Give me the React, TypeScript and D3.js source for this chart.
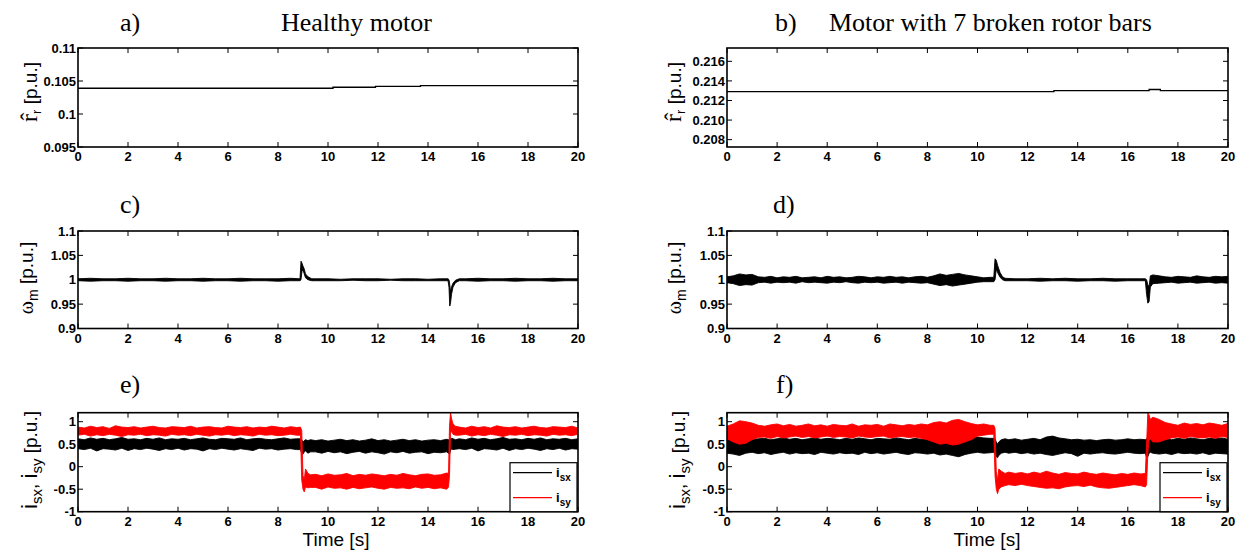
import React from 'react';
import * as d3 from 'd3';

// ---------------- data ----------------
const xTicks = [0, 2, 4, 6, 8, 10, 12, 14, 16, 18, 20];

// a) estimated rotor resistance, healthy (step line)
const aT = [0, 10.2, 11.9, 13.7, 20];
const aV = [0.1039, 0.10405, 0.1042, 0.1043, 0.1043];
// b) estimated rotor resistance, 7 broken bars
const bT = [0, 13.05, 16.85, 17.3, 20];
const bV = [0.2129, 0.2130, 0.21312, 0.2130, 0.2130];

const aYTicks = [0.095, 0.1, 0.105, 0.11];
const aYLabels = ['0.095', '0.1', '0.105', '0.11'];
const bYTicks = [0.208, 0.21, 0.212, 0.214, 0.216];
const bYLabels = ['0.208', '0.210', '0.212', '0.214', '0.216'];
const wYTicks = [0.9, 0.95, 1, 1.05, 1.1];
const wYLabels = ['0.9', '0.95', '1', '1.05', '1.1'];
const iYTicks = [-1, -0.5, 0, 0.5, 1];
const iYLabels = ['-1', '-0.5', '0', '0.5', '1'];

// c) speed, healthy  (envelope low / high)
const cT = [
  0, 0.5, 1, 1.5, 2, 2.5, 3, 3.5, 4, 4.5, 5, 5.5, 6, 6.5, 7, 7.5, 8, 8.5,
  8.88, 8.92, 8.96, 9.0, 9.05, 9.1, 9.2, 9.35,
  9.5, 10, 10.5, 11, 11.5, 12, 12.5, 13, 13.5, 14, 14.5,
  14.8, 14.84, 14.87, 14.9, 14.94, 15.0, 15.1, 15.25,
  15.5, 16, 16.5, 17, 17.5, 18, 18.5, 19, 19.5, 20,
];
const cHi = [
  1.002, 1.003, 1.002, 1.002, 1.003, 1.002, 1.002, 1.003, 1.002, 1.002, 1.003, 1.002, 1.002, 1.003, 1.002, 1.002, 1.002, 1.003,
  1.002, 1.038, 1.034, 1.028, 1.022, 1.012, 1.006, 1.002,
  1.002, 1.002, 1.001, 1.002, 1.002, 1.002, 1.001, 1.002, 1.002, 1.001, 1.002,
  1.002, 1.0, 0.99, 0.975, 0.985, 0.993, 0.999, 1.002,
  1.002, 1.003, 1.002, 1.002, 1.003, 1.002, 1.002, 1.003, 1.002, 1.002,
];
const cLo = [
  0.998, 0.997, 0.998, 0.998, 0.997, 0.998, 0.998, 0.997, 0.998, 0.998, 0.997, 0.998, 0.998, 0.997, 0.998, 0.998, 0.997, 0.998,
  0.998, 1.0, 1.018, 1.02, 1.012, 1.004, 1.0, 0.998,
  0.998, 0.998, 0.998, 0.999, 0.998, 0.998, 0.999, 0.998, 0.998, 0.998, 0.998,
  0.998, 0.985, 0.946, 0.952, 0.97, 0.985, 0.994, 0.998,
  0.998, 0.997, 0.998, 0.998, 0.997, 0.998, 0.998, 0.997, 0.998, 0.998,
];

// d) speed, 7 broken bars
const dT = [
  0, 0.25, 0.5, 0.75, 1, 1.25, 1.5, 1.75, 2, 2.25, 2.5, 2.75, 3, 3.25, 3.5, 3.75, 4, 4.25, 4.5, 4.75, 5,
  5.25, 5.5, 5.75, 6, 6.25, 6.5, 6.75, 7, 7.25, 7.5, 7.75, 8, 8.25, 8.5, 8.75, 9, 9.25, 9.5, 9.75, 10, 10.25, 10.5,
  10.65, 10.7, 10.75, 10.8, 10.9, 11.0, 11.1,
  11.5, 12, 12.5, 13, 13.5, 14, 14.5, 15, 15.5, 16, 16.5,
  16.7, 16.75, 16.8, 16.85, 16.9, 17.0,
  17.25, 17.5, 17.75, 18, 18.25, 18.5, 18.75, 19, 19.25, 19.5, 19.75, 20,
];
const dHi = [
  1.006, 1.008, 1.012, 1.01, 1.011, 1.006, 1.005, 1.007, 1.004, 1.006, 1.005, 1.007, 1.004, 1.005, 1.006, 1.004, 1.007, 1.005, 1.006, 1.004, 1.005,
  1.007, 1.006, 1.004, 1.006, 1.005, 1.007, 1.005, 1.006, 1.004, 1.006, 1.007, 1.005, 1.008, 1.012, 1.009, 1.011, 1.013, 1.01, 1.008, 1.006, 1.004, 1.005,
  1.005, 1.043, 1.04, 1.03, 1.015, 1.006, 1.003,
  1.002, 1.002, 1.003, 1.002, 1.003, 1.002, 1.002, 1.003, 1.002, 1.002, 1.002,
  1.002, 1.0, 0.99, 0.985, 1.008, 1.01,
  1.008, 1.006, 1.005, 1.007, 1.006, 1.005, 1.008, 1.006, 1.005, 1.007, 1.006, 1.007,
];
const dLo = [
  0.994, 0.992, 0.988, 0.99, 0.989, 0.994, 0.995, 0.993, 0.995, 0.994, 0.995, 0.993, 0.996, 0.994, 0.995, 0.994, 0.993, 0.995, 0.994, 0.996, 0.994,
  0.993, 0.995, 0.994, 0.995, 0.993, 0.994, 0.995, 0.993, 0.995, 0.994, 0.993, 0.994, 0.991, 0.988, 0.99, 0.987, 0.989, 0.991, 0.993, 0.995, 0.996, 0.996,
  0.996, 1.0, 1.022, 1.015, 1.005, 1.0, 0.998,
  0.998, 0.998, 0.997, 0.998, 0.998, 0.997, 0.998, 0.998, 0.997, 0.998, 0.998,
  0.998, 0.97, 0.952, 0.955, 0.985, 0.992,
  0.993, 0.994, 0.995, 0.993, 0.994, 0.995, 0.993, 0.994, 0.995, 0.993, 0.994, 0.993,
];

// e) currents, healthy
const eT = [
  0, 0.25, 0.5, 0.75, 1, 1.25, 1.5, 1.75, 2, 2.25, 2.5, 2.75, 3, 3.25, 3.5, 3.75, 4, 4.25,
  4.5, 4.75, 5, 5.25, 5.5, 5.75, 6, 6.25, 6.5, 6.75, 7, 7.25, 7.5, 7.75, 8, 8.25, 8.5, 8.75,
  8.9, 8.95, 9.0, 9.05, 9.1, 9.2, 9.3,
  9.5, 9.75, 10, 10.25, 10.5, 10.75, 11, 11.25, 11.5, 11.75, 12, 12.25, 12.5, 12.75, 13, 13.25, 13.5, 13.75, 14, 14.25, 14.5, 14.75,
  14.82, 14.86, 14.9, 14.95, 15.0, 15.1,
  15.25, 15.5, 15.75, 16, 16.25, 16.5, 16.75, 17, 17.25, 17.5, 17.75, 18, 18.25, 18.5, 18.75, 19, 19.25, 19.5, 19.75, 20,
];
const eSyHi = [
  0.88, 0.86, 0.9, 0.87, 0.89, 0.85, 0.91, 0.88, 0.87, 0.89, 0.86, 0.88, 0.9, 0.87, 0.86, 0.89, 0.88, 0.87,
  0.9, 0.86, 0.88, 0.89, 0.87, 0.86, 0.9, 0.88, 0.87, 0.89, 0.86, 0.88, 0.87, 0.9, 0.88, 0.86, 0.89, 0.87,
  0.88, 0.8, -0.2, -0.3, -0.05, -0.15, -0.18,
  -0.17, -0.2, -0.16, -0.19, -0.18, -0.15, -0.2, -0.17, -0.19, -0.16, -0.18, -0.2, -0.17, -0.19, -0.15, -0.18, -0.2, -0.17, -0.16, -0.19, -0.18, -0.14,
  -0.15, 0.9, 1.2, 1.05, 0.95, 0.9,
  0.88, 0.86, 0.9, 0.87, 0.89, 0.86, 0.91, 0.88, 0.87, 0.89, 0.86, 0.88, 0.9, 0.87, 0.86, 0.89, 0.88, 0.87, 0.9, 0.86,
];
const eSyLo = [
  0.7, 0.72, 0.68, 0.71, 0.69, 0.72, 0.7, 0.67, 0.71, 0.7, 0.72, 0.69, 0.71, 0.7, 0.68, 0.72, 0.7, 0.71,
  0.69, 0.72, 0.7, 0.68, 0.71, 0.7, 0.72, 0.69, 0.71, 0.7, 0.68, 0.72, 0.7, 0.71, 0.69, 0.7, 0.72, 0.7,
  0.7, -0.3, -0.5, -0.56, -0.45, -0.47, -0.46,
  -0.46, -0.5, -0.45, -0.48, -0.47, -0.5, -0.46, -0.49, -0.47, -0.45, -0.48, -0.5, -0.46, -0.48, -0.47, -0.49, -0.45, -0.48, -0.46, -0.49, -0.47, -0.5,
  -0.45, -0.2, 0.75, 0.78, 0.72, 0.7,
  0.7, 0.72, 0.68, 0.71, 0.69, 0.72, 0.7, 0.67, 0.71, 0.7, 0.72, 0.69, 0.71, 0.7, 0.68, 0.72, 0.7, 0.71, 0.69, 0.72,
];
const eSxHi = [
  0.62, 0.6, 0.64, 0.61, 0.63, 0.6, 0.62, 0.65, 0.61, 0.62, 0.6, 0.63, 0.61, 0.64, 0.6, 0.62, 0.61, 0.63,
  0.6, 0.62, 0.64, 0.61, 0.6, 0.63, 0.62, 0.61, 0.64, 0.6, 0.62, 0.63, 0.61, 0.6, 0.62, 0.64, 0.61, 0.62,
  0.62, 0.6, 0.55, 0.58, 0.6, 0.58, 0.6,
  0.58, 0.6, 0.57, 0.59, 0.61, 0.58, 0.6, 0.57, 0.59, 0.62, 0.58, 0.6, 0.57, 0.59, 0.61, 0.58, 0.6, 0.57, 0.59, 0.6, 0.58, 0.61,
  0.6, 0.6, 0.62, 0.63, 0.62, 0.6,
  0.62, 0.6, 0.64, 0.61, 0.63, 0.6, 0.62, 0.65, 0.61, 0.62, 0.6, 0.63, 0.61, 0.64, 0.6, 0.62, 0.61, 0.63, 0.6, 0.62,
];
const eSxLo = [
  0.4, 0.38, 0.41, 0.35, 0.4, 0.39, 0.37, 0.41, 0.36, 0.4, 0.38, 0.41, 0.39, 0.36, 0.4, 0.38, 0.41, 0.37,
  0.4, 0.39, 0.35, 0.4, 0.38, 0.41, 0.39, 0.37, 0.4, 0.38, 0.36, 0.41, 0.39, 0.4, 0.37, 0.39, 0.4, 0.38,
  0.38, 0.3, 0.28, 0.33, 0.35, 0.3, 0.33,
  0.33, 0.3, 0.34, 0.31, 0.33, 0.29, 0.32, 0.34, 0.3, 0.33, 0.31, 0.28, 0.33, 0.31, 0.34, 0.3, 0.32, 0.33, 0.29, 0.32, 0.31, 0.33,
  0.3, 0.27, 0.36, 0.4, 0.38, 0.39,
  0.4, 0.38, 0.41, 0.35, 0.4, 0.39, 0.37, 0.41, 0.36, 0.4, 0.38, 0.41, 0.39, 0.36, 0.4, 0.38, 0.41, 0.37, 0.4, 0.39,
];

// f) currents, 7 broken bars
const fT = [
  0, 0.25, 0.5, 0.75, 1, 1.25, 1.5, 1.75, 2, 2.25, 2.5, 2.75, 3, 3.25, 3.5, 3.75, 4, 4.25, 4.5, 4.75, 5,
  5.25, 5.5, 5.75, 6, 6.25, 6.5, 6.75, 7, 7.25, 7.5, 7.75, 8, 8.25, 8.5, 8.75, 9, 9.25, 9.5, 9.75, 10, 10.25, 10.5,
  10.65, 10.7, 10.75, 10.8, 10.85, 10.95, 11.1,
  11.25, 11.5, 11.75, 12, 12.25, 12.5, 12.75, 13, 13.25, 13.5, 13.75, 14, 14.25, 14.5, 14.75, 15, 15.25, 15.5, 15.75, 16, 16.25, 16.5,
  16.7, 16.75, 16.8, 16.85, 16.9, 17.0,
  17.25, 17.5, 17.75, 18, 18.25, 18.5, 18.75, 19, 19.25, 19.5, 19.75, 20,
];
const fSyHi = [
  0.9, 0.95, 1.02, 1.0, 0.97, 0.92, 0.9, 0.93, 0.95, 0.91, 0.94, 0.9, 0.92, 0.95, 0.91, 0.93, 0.9, 0.94, 0.92, 0.91, 0.95,
  0.9, 0.93, 0.92, 0.94, 0.9, 0.95, 0.93, 0.91, 0.94, 0.92, 0.95, 0.93, 0.98, 1.0, 0.97, 1.03, 1.05, 1.0, 0.96, 0.93, 0.95, 0.92,
  0.92, 0.85, -0.1, -0.3, -0.05, -0.1, -0.15,
  -0.12, -0.15, -0.13, -0.16, -0.12, -0.15, -0.1, -0.14, -0.17, -0.13, -0.15, -0.16, -0.12, -0.15, -0.17, -0.14, -0.16, -0.18, -0.15, -0.17, -0.14, -0.16,
  -0.15, 0.5, 1.2, 1.15, 1.05, 1.1,
  1.05, 0.98, 0.95, 0.92, 0.97, 0.94, 0.96, 0.93, 0.97, 0.95, 0.92, 0.96,
];
const fSyLo = [
  0.62, 0.55, 0.5, 0.52, 0.6, 0.65, 0.66, 0.63, 0.67, 0.64, 0.66, 0.68, 0.65, 0.67, 0.64, 0.66, 0.68, 0.65, 0.67, 0.66, 0.64,
  0.68, 0.66, 0.65, 0.67, 0.68, 0.64, 0.66, 0.67, 0.65, 0.66, 0.63, 0.6, 0.55, 0.5, 0.52, 0.48, 0.5, 0.55, 0.6, 0.68, 0.7, 0.72,
  0.72, -0.2, -0.5, -0.6, -0.5, -0.45, -0.42,
  -0.4, -0.42, -0.39, -0.42, -0.44, -0.46, -0.48, -0.47, -0.49, -0.45, -0.43, -0.42, -0.44, -0.41, -0.45, -0.47, -0.48, -0.46, -0.44, -0.42, -0.4, -0.42,
  -0.45, -0.4, 0.3, 0.6, 0.62, 0.55,
  0.55, 0.6, 0.64, 0.66, 0.63, 0.67, 0.65, 0.64, 0.66, 0.63, 0.67, 0.65,
];
const fSxHi = [
  0.6, 0.63, 0.66, 0.64, 0.6, 0.62, 0.63, 0.6, 0.62, 0.64, 0.61, 0.63, 0.6, 0.62, 0.64, 0.61, 0.63, 0.62, 0.6, 0.63, 0.61,
  0.64, 0.62, 0.6, 0.63, 0.62, 0.61, 0.64, 0.62, 0.6, 0.63, 0.61, 0.62, 0.6, 0.58, 0.6, 0.62, 0.6, 0.63, 0.65, 0.66, 0.64, 0.63,
  0.63, 0.62, 0.55, 0.5, 0.55, 0.6, 0.62,
  0.6, 0.62, 0.59, 0.61, 0.63, 0.6, 0.66, 0.68, 0.64, 0.62, 0.6, 0.61, 0.59, 0.6, 0.58, 0.6, 0.61, 0.59, 0.6, 0.62, 0.6, 0.61,
  0.6, 0.62, 0.65, 0.63, 0.62, 0.65,
  0.64, 0.62, 0.6, 0.63, 0.61, 0.64, 0.62, 0.6, 0.63, 0.62, 0.64, 0.61,
];
const fSxLo = [
  0.3, 0.28, 0.25, 0.3, 0.32, 0.29, 0.31, 0.27, 0.3, 0.32, 0.28, 0.31, 0.29, 0.3, 0.27, 0.32, 0.3, 0.28, 0.31, 0.29, 0.3,
  0.27, 0.32, 0.29, 0.31, 0.28, 0.3, 0.32, 0.29, 0.27, 0.31, 0.3, 0.28, 0.3, 0.26, 0.28, 0.25, 0.22, 0.27, 0.3, 0.32, 0.3, 0.31,
  0.32, 0.28, 0.22, 0.2, 0.25, 0.3, 0.32,
  0.3, 0.32, 0.29, 0.31, 0.28, 0.3, 0.27, 0.25, 0.28, 0.31, 0.29, 0.23, 0.3, 0.28, 0.3, 0.31, 0.29, 0.28, 0.3, 0.32, 0.3, 0.29,
  0.3, 0.2, 0.22, 0.3, 0.32, 0.3,
  0.28, 0.3, 0.27, 0.31, 0.29, 0.3, 0.28, 0.31, 0.27, 0.3, 0.29, 0.28,
];

// ---------------- layout ----------------
const W = 1242;
const H = 552;
const COLS = [
  [78, 578],
  [727, 1228],
];
const ROWS = [
  [48, 147],
  [231, 328.5],
  [412.7, 511.7],
];
const TICK_FONT = "'Liberation Sans', Arial, Helvetica, sans-serif";
const SERIF = "'Liberation Serif', 'Times New Roman', Times, serif";

type Band = { t: number[]; lo: number[]; hi: number[]; color: string };
type Step = { t: number[]; v: number[] };

function zipBand(b: Band) {
  return b.t.map((t, i) => ({ t, lo: b.lo[i], hi: b.hi[i] }));
}

function Panel(props: {
  id: string;
  col: number;
  row: number;
  yDomain: [number, number];
  yTicks: number[];
  yLabels: string[];
  bands?: Band[];
  step?: Step;
  legend?: boolean;
}) {
  const [x0, x1] = COLS[props.col];
  const [y0, y1] = ROWS[props.row];
  const xs = d3.scaleLinear().domain([0, 20]).range([x0, x1]);
  const ys = d3.scaleLinear().domain(props.yDomain).range([y1, y0]);
  const tl = 5;
  const clipId = 'clip-' + props.id;
  return (
    <g>
      <defs>
        <clipPath id={clipId}>
          <rect x={x0} y={y0} width={x1 - x0} height={y1 - y0} />
        </clipPath>
      </defs>
      <g clipPath={`url(#${clipId})`}>
        {props.bands &&
          props.bands.map((b, i) => {
            const area = d3
              .area<{ t: number; lo: number; hi: number }>()
              .x((d) => xs(d.t))
              .y0((d) => ys(d.lo))
              .y1((d) => ys(d.hi));
            return (
              <path
                key={i}
                d={area(zipBand(b)) || ''}
                fill={b.color}
                stroke={b.color}
                strokeWidth={0.9}
                strokeLinejoin="miter"
              />
            );
          })}
        {props.step && (
          <path
            d={
              d3
                .line<number>()
                .curve(d3.curveStepAfter)
                .x((_, i) => xs(props.step!.t[i]))
                .y((v) => ys(v))(props.step.v) || ''
            }
            fill="none"
            stroke="#000"
            strokeWidth={1.3}
          />
        )}
      </g>
      {/* ticks */}
      {xTicks.map((t) => (
        <g key={'x' + t}>
          <line x1={xs(t)} x2={xs(t)} y1={y1} y2={y1 - tl} stroke="#000" strokeWidth={1} />
          <line x1={xs(t)} x2={xs(t)} y1={y0} y2={y0 + tl} stroke="#000" strokeWidth={1} />
          <text
            x={xs(t)}
            y={y1 + 14}
            textAnchor="middle"
            fontFamily={TICK_FONT}
            fontWeight="bold"
            fontSize={13}
            fill="#000"
          >
            {t}
          </text>
        </g>
      ))}
      {props.yTicks.map((v, i) => (
        <g key={'y' + i}>
          <line x1={x0} x2={x0 + tl} y1={ys(v)} y2={ys(v)} stroke="#000" strokeWidth={1} />
          <line x1={x1} x2={x1 - tl} y1={ys(v)} y2={ys(v)} stroke="#000" strokeWidth={1} />
          <text
            x={x0 - 2}
            y={ys(v)}
            dy="0.36em"
            textAnchor="end"
            fontFamily={TICK_FONT}
            fontWeight="bold"
            fontSize={13}
            fill="#000"
          >
            {props.yLabels[i]}
          </text>
        </g>
      ))}
      <rect x={x0} y={y0} width={x1 - x0} height={y1 - y0} fill="none" stroke="#000" strokeWidth={1.6} />
      {props.legend && (
        <g>
          <rect x={x1 - 68} y={y0 + 50} width={67} height={y1 - y0 - 50} fill="#fff" stroke="#000" strokeWidth={1.2} />
          <line x1={x1 - 65} x2={x1 - 26} y1={y0 + 60} y2={y0 + 60} stroke="#000" strokeWidth={1.2} />
          <line x1={x1 - 65} x2={x1 - 26} y1={y0 + 85} y2={y0 + 85} stroke="#ff0000" strokeWidth={1.2} />
          <text x={x1 - 22} y={y0 + 64} fontFamily={TICK_FONT} fontSize={13} fontWeight="bold" fill="#000">
            i<tspan fontSize={10} dy={4}>sx</tspan>
          </text>
          <text x={x1 - 22} y={y0 + 89} fontFamily={TICK_FONT} fontSize={13} fontWeight="bold" fill="#000">
            i<tspan fontSize={10} dy={4}>sy</tspan>
          </text>
        </g>
      )}
    </g>
  );
}

function YLabel(props: { x: number; y: number; kind: 'r' | 'w' | 'i' }) {
  const { x, y, kind } = props;
  const base = { fontFamily: TICK_FONT, fontSize: 19, fill: '#000' } as const;
  if (kind === 'r') {
    return (
      <text transform={`translate(${x},${y}) rotate(-90)`} textAnchor="middle" {...base}>
        <tspan fontFamily={SERIF} fontSize={24}>{'r\u0302'}</tspan>
        <tspan fontSize={13} dy={4}>r</tspan>
        <tspan dy={-4}> [p.u.]</tspan>
      </text>
    );
  }
  if (kind === 'w') {
    return (
      <text transform={`translate(${x},${y}) rotate(-90)`} textAnchor="middle" {...base}>
        <tspan fontFamily={SERIF} fontSize={20}>ω</tspan>
        <tspan fontSize={14} dy={5}>m</tspan>
        <tspan dy={-5}>{'  [p.u.]'}</tspan>
      </text>
    );
  }
  return (
    <text transform={`translate(${x},${y}) rotate(-90)`} textAnchor="middle" {...base}>
      <tspan fontSize={22}>i</tspan>
      <tspan fontSize={15} dy={5}>sx</tspan>
      <tspan dy={-5}>{', '}</tspan>
      <tspan fontSize={22}>i</tspan>
      <tspan fontSize={15} dy={5}>sy</tspan>
      <tspan dy={-5}>{'  [p.u.]'}</tspan>
    </text>
  );
}

export default function App() {
  const black = '#000000';
  const red = '#ff0000';
  return (
    <svg
      width={W}
      height={H}
      viewBox={`0 0 ${W} ${H}`}
      style={{ position: 'absolute', left: 0, top: 0, background: '#fff' }}
    >
      <rect x={0} y={0} width={W} height={H} fill="#fff" />
      {/* titles */}
      <text x={120} y={31} fontFamily={SERIF} fontSize={26} fill="#000">a)</text>
      <text x={281} y={31} fontFamily={SERIF} fontSize={26} fill="#000">Healthy motor</text>
      <text x={775} y={31} fontFamily={SERIF} fontSize={26} fill="#000">b)</text>
      <text x={829} y={31} fontFamily={SERIF} fontSize={26} fill="#000">Motor with 7 broken rotor bars</text>
      <text x={120} y={213} fontFamily={SERIF} fontSize={26} fill="#000">c)</text>
      <text x={773} y={213} fontFamily={SERIF} fontSize={26} fill="#000">d)</text>
      <text x={120} y={393} fontFamily={SERIF} fontSize={26} fill="#000">e)</text>
      <text x={776} y={393} fontFamily={SERIF} fontSize={26} fill="#000">f)</text>

      <Panel id="a" col={0} row={0} yDomain={[0.095, 0.11]} yTicks={aYTicks} yLabels={aYLabels} step={{ t: aT, v: aV }} />
      <Panel id="b" col={1} row={0} yDomain={[0.20725, 0.21736]} yTicks={bYTicks} yLabels={bYLabels} step={{ t: bT, v: bV }} />
      <Panel id="c" col={0} row={1} yDomain={[0.9, 1.1]} yTicks={wYTicks} yLabels={wYLabels} bands={[{ t: cT, lo: cLo, hi: cHi, color: black }]} />
      <Panel id="d" col={1} row={1} yDomain={[0.9, 1.1]} yTicks={wYTicks} yLabels={wYLabels} bands={[{ t: dT, lo: dLo, hi: dHi, color: black }]} />
      <Panel
        id="e"
        col={0}
        row={2}
        yDomain={[-1, 1.2]}
        yTicks={iYTicks}
        yLabels={iYLabels}
        legend
        bands={[
          { t: eT, lo: eSxLo, hi: eSxHi, color: black },
          { t: eT, lo: eSyLo, hi: eSyHi, color: red },
        ]}
      />
      <Panel
        id="f"
        col={1}
        row={2}
        yDomain={[-1, 1.2]}
        yTicks={iYTicks}
        yLabels={iYLabels}
        legend
        bands={[
          { t: fT, lo: fSxLo, hi: fSxHi, color: black },
          { t: fT, lo: fSyLo, hi: fSyHi, color: red },
        ]}
      />

      <YLabel x={37} y={92} kind="r" />
      <YLabel x={681} y={92} kind="r" />
      <YLabel x={33} y={278} kind="w" />
      <YLabel x={681} y={278} kind="w" />
      <YLabel x={37} y={460} kind="i" />
      <YLabel x={685} y={460} kind="i" />

      <text x={336} y={546} textAnchor="middle" fontFamily={TICK_FONT} fontSize={19} fill="#000">Time [s]</text>
      <text x={987} y={546} textAnchor="middle" fontFamily={TICK_FONT} fontSize={19} fill="#000">Time [s]</text>
    </svg>
  );
}
